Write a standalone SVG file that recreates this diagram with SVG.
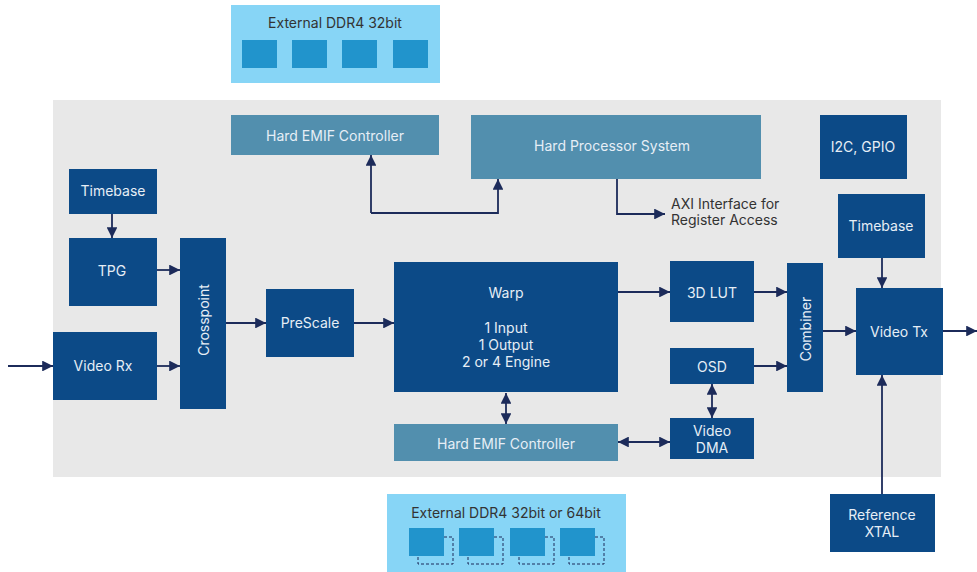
<svg xmlns="http://www.w3.org/2000/svg" width="977" height="572" viewBox="0 0 977 572">
<style>
.dk{fill:#0C4A87}
.st{fill:#528FAE}
.lt{fill:#87D5F6}
.chip{fill:#2194CC}
.tw{font-family:Inter,"Noto Sans","Liberation Sans",sans-serif;font-size:14px;fill:#E6EEF6;text-anchor:middle;dominant-baseline:central}
.tk{font-family:Inter,"Noto Sans","Liberation Sans",sans-serif;font-size:14px;fill:#333;text-anchor:middle;dominant-baseline:central}
.tl{font-family:Inter,"Noto Sans","Liberation Sans",sans-serif;font-size:14px;fill:#333;dominant-baseline:central}
.ln{fill:none;stroke:#1C2B5A;stroke-width:1.8}
.dash{fill:none;stroke:#1C2B5A;stroke-width:1;stroke-dasharray:3 2}
</style>
<defs>
<marker id="ah" viewBox="0 0 10 10" refX="10" refY="5" markerWidth="6" markerHeight="6" orient="auto-start-reverse" markerUnits="strokeWidth">
<path d="M0,0 L10,5 L0,10 z" fill="#1C2B5A"/>
</marker>
</defs>
<rect x="53" y="100" width="888" height="377" fill="#E8E8E8"/>

<g id="ddr-top">
<rect class="lt" x="231" y="5" width="209" height="78"/>
<text class="tk" x="335" y="22">External DDR4 32bit</text>
<rect class="chip" x="242" y="40" width="35" height="28"/>
<rect class="chip" x="292" y="40" width="35" height="28"/>
<rect class="chip" x="342" y="40" width="35" height="28"/>
<rect class="chip" x="393" y="40" width="35" height="28"/>
</g>

<g id="ddr-bottom">
<rect class="lt" x="387" y="494" width="239" height="78"/>
<text class="tk" x="506" y="512">External DDR4 32bit or 64bit</text>
<path class="dash" d="M444,537 H453 V564 H418 V556"/>
<path class="dash" d="M494,537 H503 V564 H468 V556"/>
<path class="dash" d="M545,537 H554 V564 H519 V556"/>
<path class="dash" d="M595,537 H604 V564 H569 V556"/>
<rect class="chip" x="409" y="528" width="35" height="28"/>
<rect class="chip" x="459" y="528" width="35" height="28"/>
<rect class="chip" x="510" y="528" width="35" height="28"/>
<rect class="chip" x="560" y="528" width="35" height="28"/>
</g>

<g id="emif-top"><rect class="st" x="231" y="115" width="208" height="40"/><text class="tw" x="335" y="135">Hard EMIF Controller</text></g>
<g id="hps"><rect class="st" x="471" y="115" width="290" height="64"/><text class="tw" x="612" y="145">Hard Processor System</text></g>
<g id="i2c"><rect class="dk" x="820" y="115" width="87" height="64"/><text class="tw" x="863" y="146">I2C, GPIO</text></g>
<g id="timebase-l"><rect class="dk" x="69" y="169" width="88" height="45"/><text class="tw" x="113" y="190">Timebase</text></g>
<g id="timebase-r"><rect class="dk" x="838" y="194" width="87" height="64"/><text class="tw" x="881" y="225">Timebase</text></g>
<g id="tpg"><rect class="dk" x="69" y="238" width="88" height="68"/><text class="tw" x="112" y="270">TPG</text></g>
<g id="videorx"><rect class="dk" x="53" y="332" width="104" height="68"/><text class="tw" x="103" y="365">Video Rx</text></g>
<g id="crosspoint"><rect class="dk" x="180" y="238" width="46" height="171"/><text class="tw" x="203" y="320" transform="rotate(-90 203 320)">Crosspoint</text></g>
<g id="prescale"><rect class="dk" x="266" y="289" width="88" height="68"/><text class="tw" x="310" y="322">PreScale</text></g>
<g id="warp"><rect class="dk" x="394" y="262" width="224" height="130"/>
<text class="tw" x="506" y="292">Warp</text>
<text class="tw" x="506" y="327">1 Input</text>
<text class="tw" x="506" y="344">1 Output</text>
<text class="tw" x="506" y="361">2 or 4 Engine</text></g>
<g id="lut"><rect class="dk" x="670" y="261" width="84" height="61"/><text class="tw" x="712" y="292">3D LUT</text></g>
<g id="osd"><rect class="dk" x="670" y="348" width="84" height="36"/><text class="tw" x="712" y="366">OSD</text></g>
<g id="combiner"><rect class="dk" x="787" y="263" width="36" height="129"/><text class="tw" x="805" y="329" transform="rotate(-90 805 329)">Combiner</text></g>
<g id="videotx"><rect class="dk" x="856" y="288" width="87" height="87"/><text class="tw" x="899" y="331">Video Tx</text></g>
<g id="emif-bottom"><rect class="st" x="394" y="424" width="224" height="37"/><text class="tw" x="506" y="443">Hard EMIF Controller</text></g>
<g id="dma"><rect class="dk" x="670" y="418" width="84" height="41"/><text class="tw" x="712" y="430">Video</text><text class="tw" x="712" y="447">DMA</text></g>
<g id="xtal"><rect class="dk" x="830" y="494" width="105" height="58"/><text class="tw" x="882" y="514">Reference</text><text class="tw" x="882" y="531">XTAL</text></g>
<g id="axi-label"><text class="tl" x="671" y="203">AXI Interface for</text><text class="tl" x="671" y="219">Register Access</text></g>

<g id="connectors">
<path class="ln" d="M371,213 V155" marker-end="url(#ah)"/>
<path class="ln" d="M371,213 H498 V179" marker-end="url(#ah)"/>
<path class="ln" d="M617,179 V214 H665" marker-end="url(#ah)"/>
<path class="ln" d="M112,214 V238" marker-end="url(#ah)"/>
<path class="ln" d="M157,270 H180" marker-end="url(#ah)"/>
<path class="ln" d="M157,366 H180" marker-end="url(#ah)"/>
<path class="ln" d="M8,366 H53" marker-end="url(#ah)"/>
<path class="ln" d="M226,323 H266" marker-end="url(#ah)"/>
<path class="ln" d="M354,323 H394" marker-end="url(#ah)"/>
<path class="ln" d="M618,292 H670" marker-end="url(#ah)"/>
<path class="ln" d="M754,292 H787" marker-end="url(#ah)"/>
<path class="ln" d="M754,366 H787" marker-end="url(#ah)"/>
<path class="ln" d="M823,331 H856" marker-end="url(#ah)"/>
<path class="ln" d="M943,331 H977" marker-end="url(#ah)"/>
<path class="ln" d="M882,258 V288" marker-end="url(#ah)"/>
<path class="ln" d="M882,494 V375" marker-end="url(#ah)"/>
<path class="ln" d="M506,393 V424" marker-start="url(#ah)" marker-end="url(#ah)"/>
<path class="ln" d="M618,442 H670" marker-start="url(#ah)" marker-end="url(#ah)"/>
<path class="ln" d="M712,384 V418" marker-start="url(#ah)" marker-end="url(#ah)"/>
</g>
</svg>
